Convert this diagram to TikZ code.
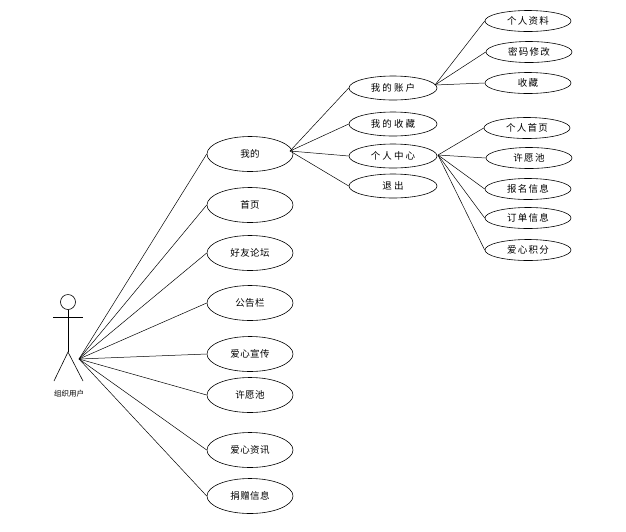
\documentclass[tikz,border=0pt]{standalone}
\usepackage{fontspec}
\newfontfamily\cjk{Noto Sans CJK SC}
\newfontfamily\cjkl[LetterSpace=4]{Noto Sans CJK SC}
\newfontfamily\cjkm[LetterSpace=22]{Noto Sans CJK SC}
\newfontfamily\cjkr[LetterSpace=14]{Noto Sans CJK SC}
\usetikzlibrary{shapes.geometric}
\begin{document}
\begin{tikzpicture}[x=1pt,y=-1pt,line width=0.6pt,
  uc/.style={ellipse,draw,inner sep=0pt},
  ucl/.style={uc,minimum width=86pt,minimum height=35pt,font=\cjkl\fontsize{9.5}{11}\selectfont},
  ucm/.style={uc,minimum width=88pt,minimum height=24pt,font=\cjkm\fontsize{9.5}{11}\selectfont},
  ucr/.style={uc,minimum width=86pt,minimum height=21pt,font=\cjkr\fontsize{9.5}{11}\selectfont},
  link/.style={draw,line width=0.5pt}]
\useasboundingbox (0,0) rectangle (626,531);
% actor
\node[circle,draw,minimum size=15pt,inner sep=0pt] (head) at (68,302) {};
\coordinate (hip) at (68,352);
\coordinate (armL) at (53,317);
\coordinate (armR) at (83,317);
\coordinate (legL) at (54,381);
\coordinate (legR) at (83,381);
\draw (head.south) -- (hip);
\draw (armL) -- (armR);
\draw (legL) -- (hip) -- (legR);
\node[font=\cjk\fontsize{7.5}{9}\selectfont] (actor) at (69,394) {组织用户};
\coordinate (ah) at (79,359);
% left column
\node[ucl] (wode) at (250,154) {我的};
\node[ucl] (shouye) at (250,205) {首页};
\node[ucl] (luntan) at (250,253) {好友论坛};
\node[ucl] (gonggao) at (250,303) {公告栏};
\node[ucl] (xuanchuan) at (250,354) {爱心宣传};
\node[ucl] (xuyuan) at (250,395) {许愿池};
\node[ucl] (zixun) at (250,450) {爱心资讯};
\node[ucl] (juanzeng) at (250,496) {捐赠信息};
\foreach \n in {wode,shouye,luntan,gonggao,xuanchuan,xuyuan,zixun,juanzeng}
  \draw[link] (ah) -- (\n.west);
% middle column
\coordinate (wh) at (290,151);
\node[ucm] (zhanghu) at (393,88) {我的账户};
\node[ucm] (shoucang) at (393,124) {我的收藏};
\node[ucm] (zhongxin) at (393,156) {个人中心};
\node[ucm] (tuichu) at (393,186) {退出};
\foreach \n in {zhanghu,shoucang,zhongxin,tuichu}
  \draw[link] (wh) -- (\n.west);
% right column
\coordinate (zh) at (435,85);
\coordinate (ch) at (438,155);
\node[ucr] (ziliao) at (528,21) {个人资料};
\node[ucr] (mima) at (529,52) {密码修改};
\node[ucr] (sc2) at (528,83) {收藏};
\node[ucr] (zhuye) at (527,128) {个人首页};
\node[ucr] (xyc) at (529,158) {许愿池};
\node[ucr] (baoming) at (528,189) {报名信息};
\node[ucr] (dingdan) at (528,218) {订单信息};
\node[ucr] (jifen) at (528,250) {爱心积分};
\foreach \n in {ziliao,mima,sc2}
  \draw[link] (zh) -- (\n.west);
\foreach \n in {zhuye,xyc,baoming,dingdan,jifen}
  \draw[link] (ch) -- (\n.west);
\end{tikzpicture}
\end{document}
